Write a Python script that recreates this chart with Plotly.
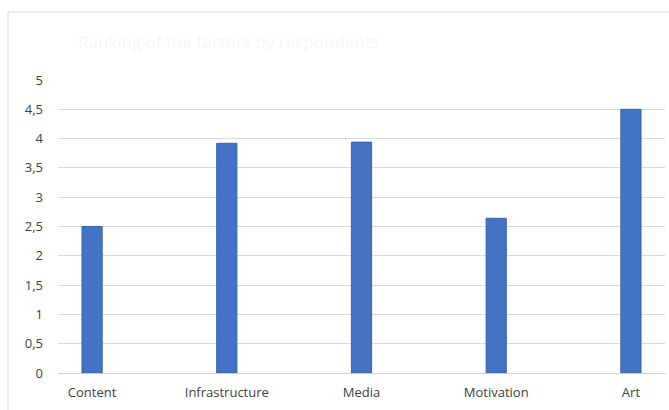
import plotly.graph_objects as go

categories = ["Content", "Infrastructure", "Media", "Motivation", "Art"]
values = [2.5, 3.92, 3.94, 2.64, 4.5]
tick_vals = [0, 0.5, 1, 1.5, 2, 2.5, 3, 3.5, 4, 4.5, 5]
tick_text = ["0", "0,5", "1", "1,5", "2", "2,5", "3", "3,5", "4", "4,5", "5"]
title_text = "Ranking of the factors by respondents"

fig = go.Figure(
    go.Bar(
        x=categories,
        y=values,
        width=0.15,
        marker=dict(color="#4472c4", line=dict(color="#3a63ad", width=1)),
    )
)

fig.update_layout(
    width=669,
    height=410,
    margin=dict(l=58, r=4, t=80, b=37),
    paper_bgcolor="white",
    plot_bgcolor="white",
    showlegend=False,
    font=dict(family="Open Sans, Noto Sans, sans-serif", size=12, color="#595959"),
    title=dict(
        text=title_text,
        x=78 / 669,
        xanchor="left",
        y=1 - 42 / 410,
        yanchor="middle",
        font=dict(size=17, color="#f6f6f6"),
    ),
    xaxis=dict(
        type="category",
        range=[-0.253, 4.253],
        showgrid=False,
        showline=False,
        ticks="",
        ticklabelstandoff=10,
        tickfont=dict(size=13, color="#404040"),
        fixedrange=True,
    ),
    yaxis=dict(
        range=[0, 5],
        tickvals=tick_vals,
        ticktext=tick_text,
        showgrid=True,
        gridcolor="#d9d9d9",
        gridwidth=1,
        zeroline=True,
        zerolinecolor="#d0d0d0",
        zerolinewidth=1,
        showline=False,
        ticks="",
        ticklabelstandoff=14,
        tickfont=dict(size=13, color="#404040"),
        fixedrange=True,
    ),
    shapes=[
        dict(
            type="rect",
            xref="paper",
            yref="paper",
            x0=-0.0824,
            x1=1.2,
            y0=-0.4,
            y1=1.232,
            line=dict(color="#d9d9d9", width=1),
            fillcolor="rgba(0,0,0,0)",
            layer="below",
        )
    ],
)

fig.write_html("out.html")
